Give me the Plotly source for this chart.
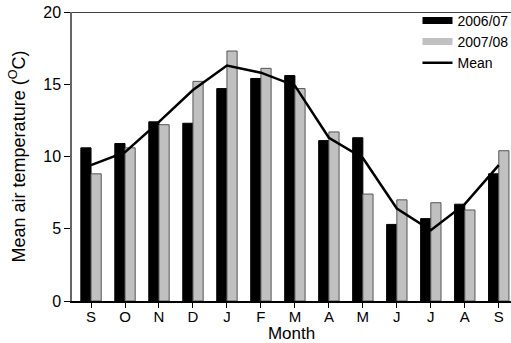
import plotly.graph_objects as go

months = ["S", "O", "N", "D", "J", "F", "M", "A", "M", "J", "J", "A", "S"]
t_2006_07 = [10.6, 10.9, 12.4, 12.3, 14.7, 15.4, 15.6, 11.1, 11.3, 5.3, 5.7, 6.7, 8.8]
t_2007_08 = [8.8, 10.6, 12.2, 15.2, 17.3, 16.1, 14.7, 11.7, 7.4, 7.0, 6.8, 6.3, 10.4]
t_mean = [9.4, 10.3, 12.4, 14.6, 16.3, 15.8, 14.9, 11.3, 9.9, 6.4, 4.9, 6.7, 9.4]

x = list(range(len(months)))
FONT = "Arial, Liberation Sans, sans-serif"

fig = go.Figure()
fig.add_trace(go.Bar(x=x, y=t_2006_07, name="2006/07", marker=dict(color="black", line=dict(color="black", width=1)), showlegend=False))
fig.add_trace(go.Bar(x=x, y=t_2007_08, name="2007/08", marker=dict(color="#c0c0c0", line=dict(color="#555555", width=1)), showlegend=False))
fig.add_trace(go.Scatter(x=x, y=t_mean, name="Mean", mode="lines", line=dict(color="black", width=2.5), showlegend=False))

# legend entries
fig.add_trace(go.Scatter(x=[None], y=[None], mode="lines", name="2006/07", line=dict(color="black", width=7)))
fig.add_trace(go.Scatter(x=[None], y=[None], mode="lines", name="2007/08", line=dict(color="#c0c0c0", width=7)))
fig.add_trace(go.Scatter(x=[None], y=[None], mode="lines", name="Mean", line=dict(color="black", width=2.5)))

fig.add_shape(type="line", xref="paper", yref="y", x0=0, x1=1, y0=20, y1=20, line=dict(color="black", width=1.5))

fig.update_layout(
    width=511, height=343,
    margin=dict(l=72, r=0, t=12, b=42, autoexpand=False),
    plot_bgcolor="white", paper_bgcolor="white",
    barmode="group", bargap=0.4, bargroupgap=0,
    font=dict(family=FONT, size=15, color="black"),
    legend=dict(x=0.787, y=1.025, xanchor="left", yanchor="top", bgcolor="rgba(0,0,0,0)",
                font=dict(size=14), tracegroupgap=0, itemwidth=30),
    xaxis=dict(range=[-0.56, 12.36], tickmode="array", tickvals=x, ticktext=months, automargin=False,
               showline=True, linecolor="black", linewidth=1.5, ticks="outside", ticklen=5,
               tickcolor="black", showgrid=False, zeroline=False, ticklabelstandoff=-4,
               title=dict(text="Month", font=dict(size=17), standoff=4)),
    yaxis=dict(range=[0, 20], tickvals=[0, 5, 10, 15, 20], showline=True, linecolor="#666666", linewidth=1.5,
               automargin=False, ticks="outside", ticklen=6, tickcolor="black", showgrid=False, zeroline=False,
               tickfont=dict(size=16),
               title=dict(text="Mean air temperature (<sup>O</sup>C)", font=dict(size=18), standoff=13)),
)

fig.write_html("out.html", config={"displayModeBar": False},
               post_script="document.body.style.margin='0';document.body.style.overflow='hidden';")
